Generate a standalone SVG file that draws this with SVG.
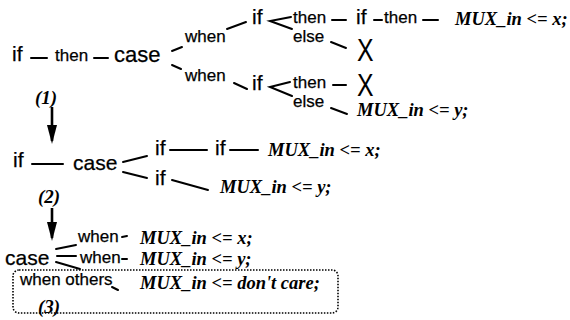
<svg xmlns="http://www.w3.org/2000/svg" width="570" height="320" viewBox="0 0 570 320">
<style>
.s{font-family:"Liberation Sans",Arial,sans-serif;fill:#000;stroke:#000;stroke-width:0.25}
.k{font-size:21px}
.w{font-size:17px}
.x{font-size:31px;stroke-width:0}
.m{font-family:"Liberation Serif","Times New Roman",serif;font-weight:bold;font-style:italic;font-size:18.5px;fill:#000}
.n{font-family:"Liberation Serif","Times New Roman",serif;font-weight:bold;font-style:italic;font-size:19px;fill:#000}
#connectors line,#connectors polyline{stroke:#000;stroke-width:2;fill:none;stroke-linecap:round}
#connectors .arrow{stroke-width:2.6;stroke-linecap:butt}
.box{fill:none;stroke:#000;stroke-width:1.6;stroke-dasharray:1.5 1.5}
</style>
<defs>
<marker id="ah" markerUnits="userSpaceOnUse" markerWidth="20" markerHeight="10" refX="16" refY="5" orient="auto">
<path d="M0,0 L19,5 L0,10 z" fill="#000"/>
</marker>
</defs>

<g id="connectors">
<line x1="31" y1="58" x2="47" y2="58"/>
<line x1="94" y1="58" x2="108" y2="58"/>
<line x1="172" y1="51" x2="182" y2="47"/>
<line x1="172" y1="65" x2="181" y2="69"/>
<line x1="227" y1="29" x2="246" y2="22"/>
<line x1="234" y1="83" x2="247" y2="89"/>
<polyline points="291,17 270,21 292,29"/>
<polyline points="290,82 270,87 292,96"/>
<line x1="332" y1="20" x2="346" y2="20"/>
<line x1="374" y1="20" x2="382" y2="20"/>
<line x1="423" y1="20" x2="438" y2="20"/>
<line x1="331" y1="42" x2="346" y2="48"/>
<line x1="333" y1="85" x2="346" y2="85"/>
<line x1="331" y1="108" x2="347" y2="114"/>
<line class="arrow" x1="52" y1="107" x2="52" y2="141" marker-end="url(#ah)"/>
<line x1="32" y1="164" x2="63" y2="164"/>
<line x1="123" y1="162" x2="147" y2="156"/>
<line x1="123" y1="172" x2="147" y2="178"/>
<line x1="170" y1="150" x2="207" y2="150"/>
<line x1="230" y1="150" x2="258" y2="150"/>
<line x1="172" y1="180" x2="208" y2="190"/>
<line class="arrow" x1="52" y1="208" x2="52" y2="238" marker-end="url(#ah)"/>
<line x1="56" y1="249" x2="76" y2="245"/>
<line x1="57" y1="256" x2="76" y2="256"/>
<line x1="56" y1="262" x2="80" y2="269"/>
<line x1="122" y1="237" x2="127" y2="236"/>
<line x1="122" y1="259" x2="127" y2="259"/>
<line x1="112" y1="287" x2="118" y2="290"/>
</g>

<g id="n_if1"><text class="s k" x="12" y="61">if</text></g>
<g id="n_then1"><text class="s w" x="55" y="61">then</text></g>
<g id="n_case1"><text class="s" font-size="22" x="114" y="62">case</text></g>
<g id="n_when1a"><text class="s w" x="185" y="42">when</text></g>
<g id="n_when1b"><text class="s w" x="185" y="81">when</text></g>
<g id="n_if1a"><text class="s k" x="252" y="24">if</text></g>
<g id="n_if1b"><text class="s k" x="252" y="90">if</text></g>
<g id="n_then1a"><text class="s w" x="293" y="23">then</text></g>
<g id="n_else1a"><text class="s w" x="293" y="42">else</text></g>
<g id="n_if1c"><text class="s k" x="356" y="24">if</text></g>
<g id="n_then1c"><text class="s w" x="384" y="23">then</text></g>
<g id="n_mux1x"><text class="m" x="455" y="25">MUX_in &lt;= x;</text></g>
<g id="n_x1a"><text class="s x" transform="translate(357,61) scale(0.8,1)">X</text></g>
<g id="n_then1b"><text class="s w" x="293" y="88">then</text></g>
<g id="n_x1b"><text class="s x" transform="translate(357,96) scale(0.8,1)">X</text></g>
<g id="n_else1b"><text class="s w" x="293" y="107">else</text></g>
<g id="n_mux1y"><text class="m" x="357" y="116">MUX_in &lt;= y;</text></g>
<g id="n_lbl1"><text class="n" x="35" y="104">(1)</text></g>

<g id="n_if2"><text class="s k" x="13" y="167">if</text></g>
<g id="n_case2"><text class="s k" x="73" y="170">case</text></g>
<g id="n_if2a"><text class="s k" x="155" y="155">if</text></g>
<g id="n_if2b"><text class="s k" x="155" y="185">if</text></g>
<g id="n_if2c"><text class="s k" x="215" y="155">if</text></g>
<g id="n_mux2x"><text class="m" x="268" y="156">MUX_in &lt;= x;</text></g>
<g id="n_mux2y"><text class="m" x="220" y="193">MUX_in &lt;= y;</text></g>
<g id="n_lbl2"><text class="n" x="38" y="203">(2)</text></g>

<g id="n_case3"><text class="s k" x="5" y="265">case</text></g>
<g id="n_when3a"><text class="s w" x="78" y="242">when</text></g>
<g id="n_mux3x"><text class="m" x="140" y="244">MUX_in &lt;= x;</text></g>
<g id="n_when3b"><text class="s w" x="80" y="263">when</text></g>
<g id="n_mux3y"><text class="m" x="140" y="265">MUX_in &lt;= y;</text></g>
<g id="n_others">
<rect class="box" x="13" y="270" width="325" height="43" rx="6"/>
<text class="s w" x="20" y="285">when others</text>
<text class="m" x="140" y="289">MUX_in &lt;= don't care;</text>
<text class="n" x="38" y="313">(3)</text>
</g>
</svg>
